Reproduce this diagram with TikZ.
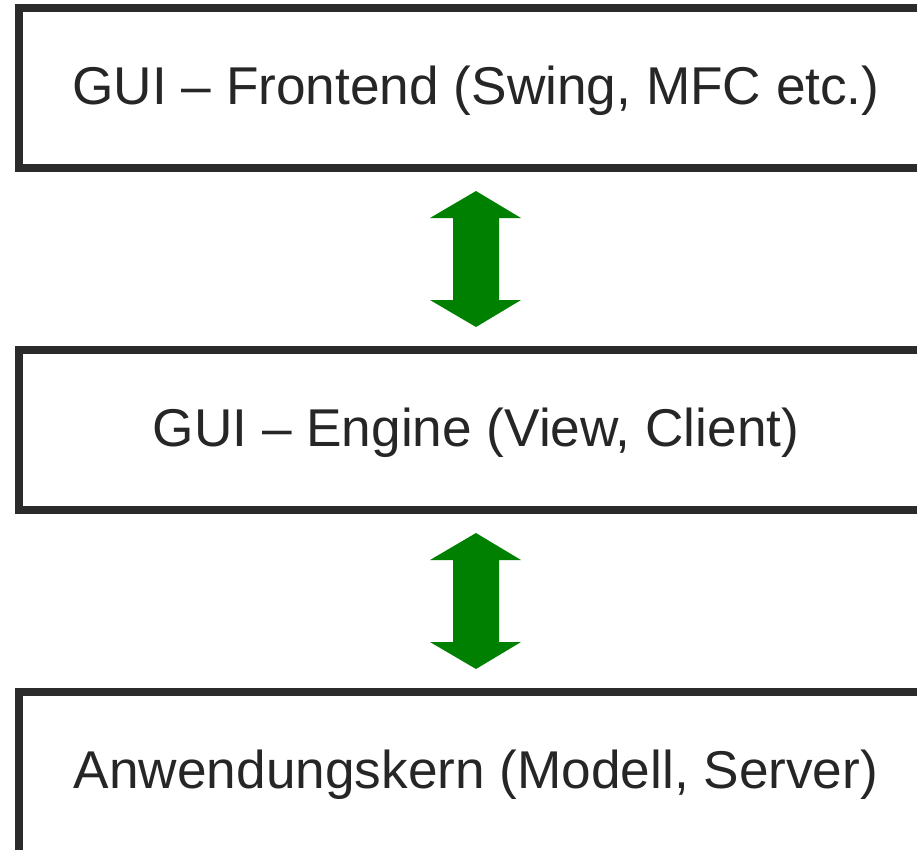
\documentclass[tikz,border=0pt]{standalone}
\usepackage{fontspec}
\setmainfont{Liberation Sans}
\definecolor{boxline}{HTML}{2B2B2B}
\definecolor{txt}{HTML}{262626}
\definecolor{arrowgreen}{HTML}{008000}
\begin{document}
\begin{tikzpicture}[x=1pt,y=-1pt,
  layerbox/.style={draw=boxline,line width=8pt,minimum width=930pt,minimum height=160pt,anchor=north west,inner sep=0pt,outer sep=0pt,fill=white},
  layertext/.style={text=txt,font=\fontsize{53.2}{60}\selectfont,inner sep=0pt,anchor=base},
  biarrow/.style={fill=arrowgreen,draw=none}]
\useasboundingbox (0,0) rectangle (917,849);
\clip (0,0) rectangle (917,849);
\node[layerbox] (b1) at (19,8) {};
\node[layerbox] (b2) at (19,350) {};
\node[layerbox,minimum height=180pt] (b3) at (19,692) {};
\node[layertext] (t1) at (476,104) {GUI – Frontend (Swing, MFC etc.)};
\node[layertext] (t2) at (476,446.5) {GUI – Engine (View, Client)};
\node[layertext] (t3) at (476,788.5) {Anwendungskern (Modell, Server)};
\foreach \o/\n in {0/a1,342/a2}{
  \coordinate (\n) at (476,191+\o);
  \fill[biarrow] (\n) -- ++(45,27) -- ++(-22,0) -- ++(0,82) -- ++(22,0) -- ++(-45,27) -- ++(-46,-27) -- ++(23,0) -- ++(0,-82) -- ++(-23,0) -- cycle;
}
\end{tikzpicture}
\end{document}
